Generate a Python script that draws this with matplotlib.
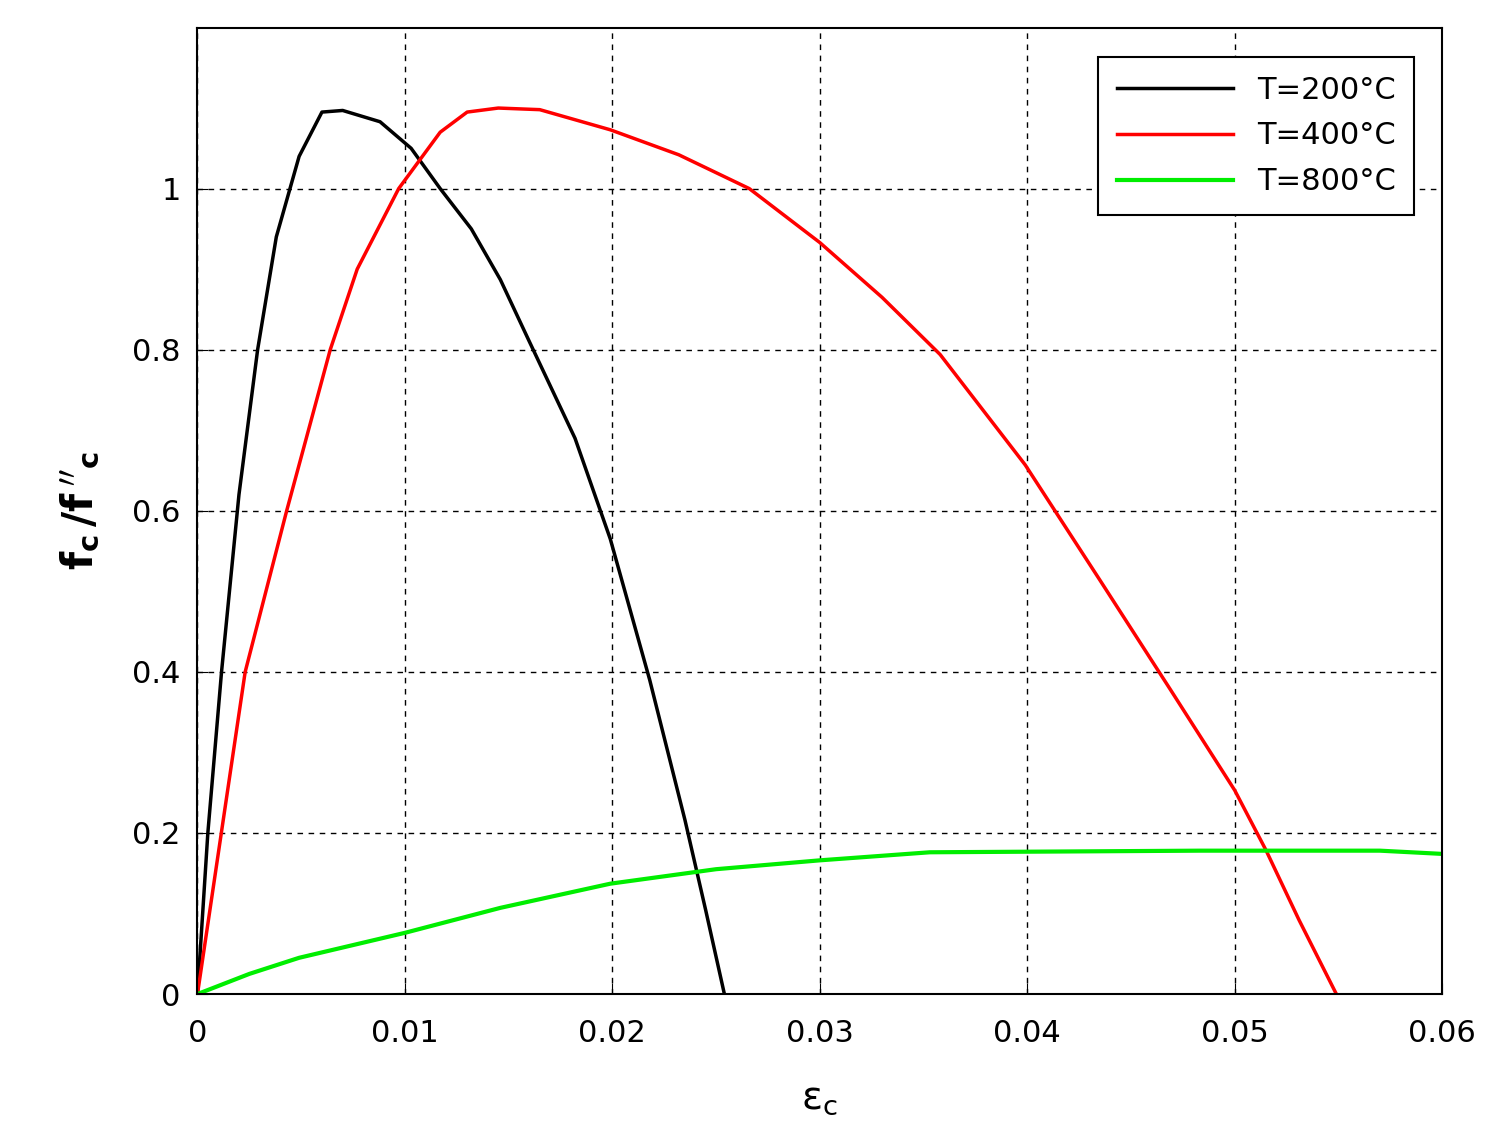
import matplotlib
matplotlib.use("Agg")
import matplotlib.pyplot as plt

x200 = [0, 0.0005, 0.00116, 0.002, 0.0029, 0.0038, 0.0049, 0.006, 0.007, 0.0088, 0.0103, 0.0117, 0.0132, 0.0146, 0.016, 0.0182, 0.0199, 0.0218, 0.0235, 0.0245, 0.0254]
y200 = [0, 0.2, 0.4, 0.62, 0.8, 0.94, 1.04, 1.095, 1.097, 1.083, 1.05, 1.0, 0.95, 0.887, 0.81, 0.69, 0.565, 0.39, 0.216, 0.104, 0.0]
x400 = [0, 0.0023, 0.0043, 0.0064, 0.0077, 0.0097, 0.0117, 0.013, 0.0145, 0.0165, 0.0199, 0.0232, 0.0266, 0.030, 0.033, 0.0358, 0.0399, 0.0435, 0.0469, 0.050, 0.0515, 0.0531, 0.0549]
y400 = [0, 0.4, 0.6, 0.8, 0.9, 1.0, 1.07, 1.095, 1.1, 1.098, 1.073, 1.042, 1.0, 0.933, 0.865, 0.794, 0.657, 0.514, 0.378, 0.253, 0.179, 0.092, 0.0]
x800 = [0, 0.0025, 0.0049, 0.010, 0.0146, 0.0199, 0.025, 0.030, 0.0353, 0.0483, 0.057, 0.060]
y800 = [0, 0.025, 0.045, 0.076, 0.107, 0.137, 0.155, 0.166, 0.176, 0.178, 0.178, 0.174]
labels = ["T=200°C", "T=400°C", "T=800°C"]
xticks = [0, 0.01, 0.02, 0.03, 0.04, 0.05, 0.06]
yticks = [0, 0.2, 0.4, 0.6, 0.8, 1.0]
ytlabels = ["0", "0.2", "0.4", "0.6", "0.8", "1"]

fig = plt.figure(figsize=(14.96, 11.46), dpi=100)
ax = fig.add_axes([0.132, 0.1326, 0.832, 0.8434])
ax.plot(x200, y200, color="black", lw=2.5, label=labels[0])
ax.plot(x400, y400, color="red", lw=2.5, label=labels[1])
ax.plot(x800, y800, color="#00ee00", lw=3, label=labels[2])
ax.set_xlim(0, 0.06)
ax.set_ylim(0, 1.2)
ax.set_xticks(xticks)
ax.set_xticklabels(["0", "0.01", "0.02", "0.03", "0.04", "0.05", "0.06"])
ax.set_yticks(yticks)
ax.set_yticklabels(ytlabels)
ax.tick_params(labelsize=22, direction="in", length=8)
ax.tick_params(axis="x", pad=18)
ax.tick_params(axis="y", pad=12)
for s in ax.spines.values():
    s.set_linewidth(1.5)
ax.grid(True, color="black", linestyle=(0, (4, 4)), lw=1)
ax.set_xlabel(r"$\mathregular{\varepsilon_c}$", fontsize=28, labelpad=22)
ax.set_ylabel(r"$\mathbf{f_c\,/f\,''_c}$", fontsize=30, labelpad=22)
leg = ax.legend(loc="upper right", fontsize=22, fancybox=False, edgecolor="black",
                framealpha=1, handlelength=3.8, borderpad=0.6, labelspacing=0.55,
                bbox_to_anchor=(0.99, 0.985))
leg.get_frame().set_linewidth(1.5)
fig.savefig("out.png", dpi=100)
